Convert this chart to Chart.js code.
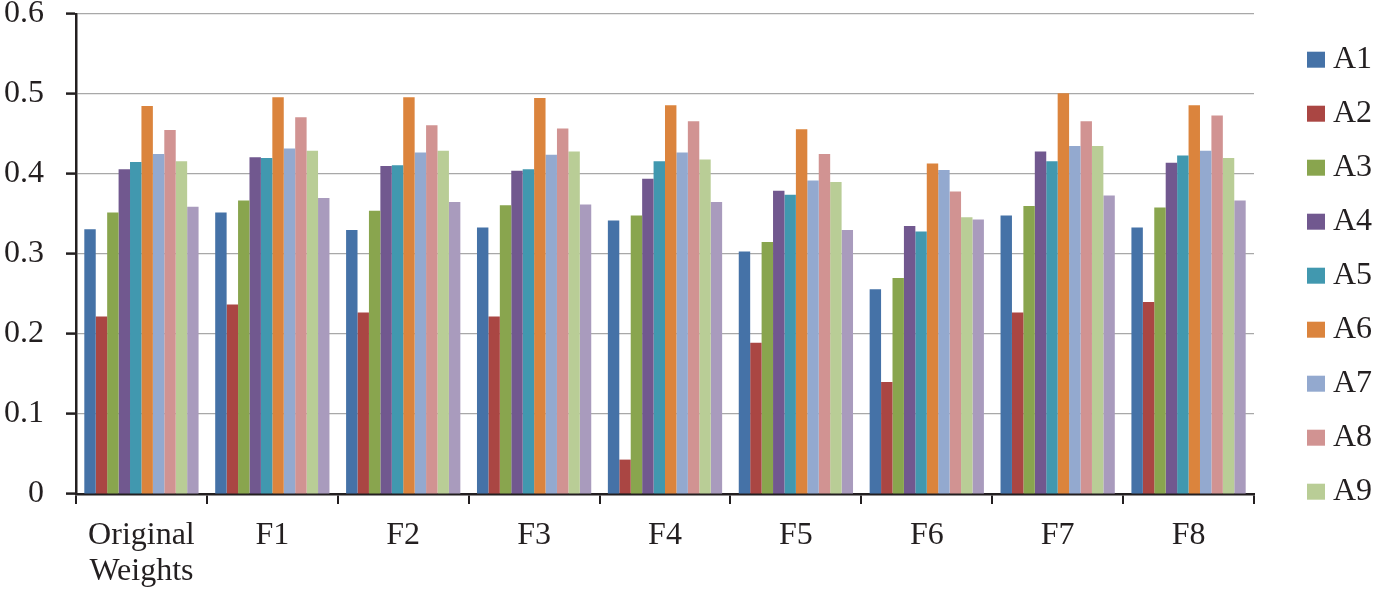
<!DOCTYPE html>
<html>
<head>
<meta charset="utf-8">
<script src="https://cdn.jsdelivr.net/npm/chart.js@4"></script>
<style>
  html, body { margin: 0; padding: 0; background: #ffffff; }
  #wrap { width: 1375px; height: 597px; position: relative; }
</style>
</head>
<body>
<div id="wrap"><canvas id="c"></canvas></div>
<script>
const categories = [['Original', 'Weights'], 'F1', 'F2', 'F3', 'F4', 'F5', 'F6', 'F7', 'F8'];
const seriesNames = ['A1', 'A2', 'A3', 'A4', 'A5', 'A6', 'A7', 'A8', 'A9', 'A10'];
const A1 = [0.331, 0.352, 0.330, 0.333, 0.342, 0.303, 0.256, 0.348, 0.333];
const A2 = [0.222, 0.237, 0.227, 0.222, 0.043, 0.189, 0.140, 0.227, 0.240];
const A3 = [0.352, 0.367, 0.354, 0.361, 0.348, 0.315, 0.270, 0.360, 0.358];
const A4 = [0.406, 0.421, 0.410, 0.404, 0.394, 0.379, 0.335, 0.428, 0.414];
const A5 = [0.415, 0.420, 0.411, 0.406, 0.416, 0.374, 0.328, 0.416, 0.423];
const A6 = [0.485, 0.496, 0.496, 0.495, 0.486, 0.456, 0.413, 0.501, 0.486];
const A7 = [0.425, 0.432, 0.427, 0.424, 0.427, 0.392, 0.405, 0.435, 0.429];
const A8 = [0.455, 0.471, 0.461, 0.457, 0.466, 0.425, 0.378, 0.466, 0.473];
const A9 = [0.416, 0.429, 0.429, 0.428, 0.418, 0.390, 0.346, 0.435, 0.420];
const A10 = [0.359, 0.370, 0.365, 0.362, 0.365, 0.330, 0.343, 0.373, 0.367];
const yTicks = [0, 0.1, 0.2, 0.3, 0.4, 0.5, 0.6];
const tickLabels = ['0', '0.1', '0.2', '0.3', '0.4', '0.5', '0.6'];
const legendCount = 9;

const seriesValues = [A1, A2, A3, A4, A5, A6, A7, A8, A9, A10];
const colors = ['#4572A7', '#AA4643', '#89A54E', '#71588F', '#4198AF', '#DB843D', '#93A9CF', '#D19392', '#B9CD96', '#A99BBD'];
const FONT = '"Liberation Serif", "Times New Roman", serif';
const INK = '#231f20';

const datasets = seriesNames.map((name, i) => ({
  label: name,
  data: seriesValues[i],
  backgroundColor: colors[i],
  borderWidth: 0,
  categoryPercentage: 0.873,
  barPercentage: 1.0
}));

new Chart(document.getElementById('c'), {
  type: 'bar',
  data: { labels: categories, datasets },
  options: {
    responsive: true,
    maintainAspectRatio: false,
    animation: false,
    layout: { padding: { left: 4, right: 3, top: 0, bottom: 7 } },
    plugins: {
      tooltip: { enabled: false },
      legend: {
        position: 'right',
        align: 'start',
        maxWidth: 87,
        title: { display: true, text: '', font: { size: 10, lineHeight: 1 }, padding: { top: 0, bottom: 11.7 } },
        labels: {
          boxWidth: 18,
          boxHeight: 16,
          padding: 22,
          color: INK,
          textAlign: 'right',
          font: { family: FONT, size: 32 },
          filter: (item) => item.datasetIndex < legendCount
        }
      }
    },
    scales: {
      x: {
        grid: { display: true, drawOnChartArea: false, drawTicks: true, tickLength: 10, color: INK, lineWidth: 2, offset: true },
        border: { display: true, color: INK, width: 2.5 },
        ticks: { color: INK, font: { family: FONT, size: 32, lineHeight: 1.125 }, padding: 14, maxRotation: 0, autoSkip: false },
        afterFit: (s) => { s.height = 96; }
      },
      y: {
        min: 0,
        max: 0.6,
        afterBuildTicks: (s) => { s.ticks = yTicks.map(v => ({ value: v })); },
        afterFit: (s) => { s.width = 72; s.paddingTop = 14; s.paddingBottom = 14; },
        grid: { color: '#a8a8a8', lineWidth: 1.2, tickColor: INK, tickLength: 10, tickWidth: 2.5 },
        border: { display: true, color: INK, width: 2.5 },
        ticks: {
          color: INK,
          padding: 22,
          font: { family: FONT, size: 32, lineHeight: 0.875 },
          callback: (v) => tickLabels[yTicks.findIndex(t => Math.abs(t - v) < 1e-9)]
        }
      },
      gap: {
        type: 'linear',
        position: 'right',
        display: true,
        grid: { display: false, drawTicks: false },
        border: { display: false },
        ticks: { display: false },
        afterFit: (s) => { s.width = 31; }
      }
    }
  }
});
</script>
</body>
</html>
